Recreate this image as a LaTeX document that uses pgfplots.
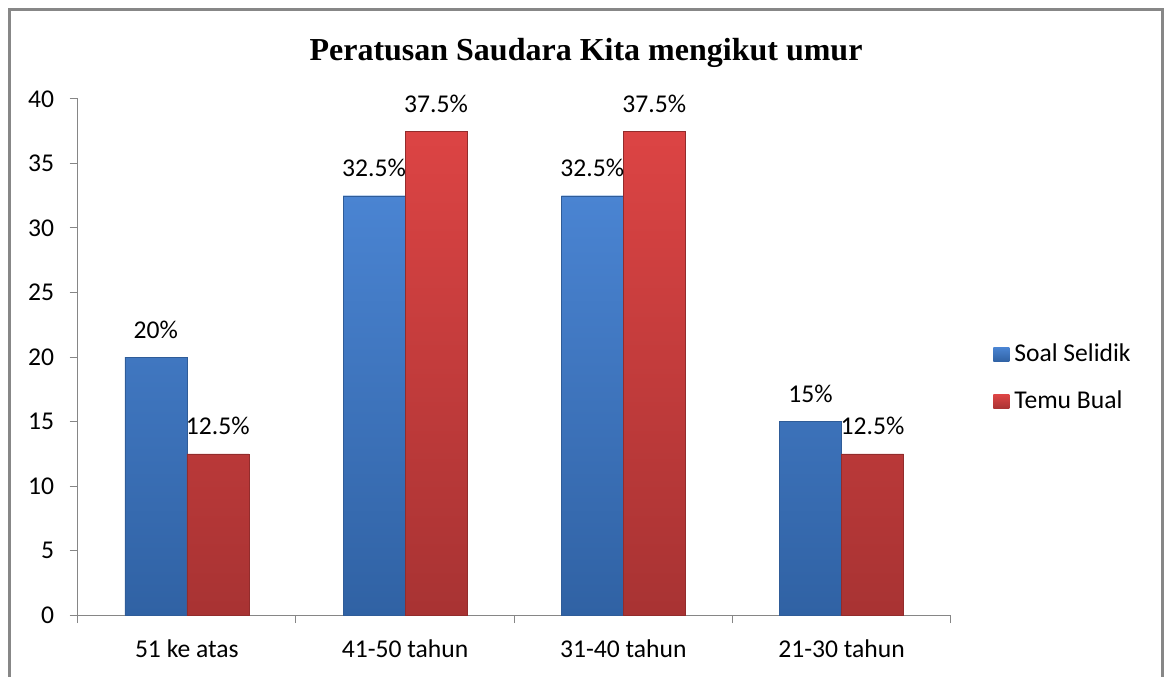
\documentclass[border=0pt]{standalone}
\usepackage{fontspec}
\setmainfont{Carlito}
\newfontfamily\titlefont{Liberation Serif}
\usepackage{pgfplots}
\pgfplotsset{compat=1.18}
\definecolor{axgray}{HTML}{868686}
\definecolor{frgray}{HTML}{878787}
\definecolor{blueTop}{HTML}{4A84D2}
\definecolor{blueBot}{HTML}{3062A4}
\definecolor{blueEdge}{HTML}{2F5C98}
\definecolor{redTop}{HTML}{DC4444}
\definecolor{redBot}{HTML}{A83333}
\definecolor{redEdge}{HTML}{922C2C}
\newcommand{\lblfont}{\fontsize{19.2}{23}\selectfont}
\begin{document}
\begin{tikzpicture}
\useasboundingbox (0,0) rectangle (873pt,-507.75pt);
\draw[frgray, line width=2.25pt] (7.1pt,-520pt) -- (7.1pt,-7.1pt) -- (871.9pt,-7.1pt) -- (871.9pt,-520pt);
\node[font=\titlefont\bfseries\fontsize{24}{28}\selectfont, anchor=base, inner sep=0pt] at (439.5pt,-45.4pt) {Peratusan Saudara Kita mengikut umur};
\begin{axis}[
  at={(58.28pt,-461.25pt)}, anchor=south west,
  scale only axis, width=654.75pt, height=387pt,
  xmin=-0.5, xmax=3.5, ymin=0, ymax=40,
  axis lines*=left,
  axis line style={axgray, line width=0.75pt},
  every tick/.style={axgray, line width=0.75pt},
  tick align=outside,
  major tick length=6pt,
  ytick={0,5,...,40},
  xtick={-0.5,0.5,...,3.5}, xticklabels={},
  extra x ticks={0,1,2,3},
  extra x tick labels={51 ke atas, 41-50 tahun, 31-40 tahun, 21-30 tahun},
  extra x tick style={major tick length=0pt},
  ticklabel style={font=\lblfont, text=black},
  /pgf/number format/assume math mode=true,
  yticklabel style={anchor=east, xshift=-8.25pt},
  xticklabel style={anchor=base, yshift=-32pt},
  ybar=0pt, bar width=46.5pt,
  nodes near coords={\pgfmathprintnumber[assume math mode=true]{\pgfplotspointmeta}\%},
  nodes near coords style={anchor=base, yshift=14.25pt, font=\lblfont, inner sep=0pt, text=black},
  legend cell align=left,
  legend image code/.code={\path[#1, draw=none] (0pt,-5.25pt) rectangle (12pt,5.25pt);},
  legend style={draw=none, fill=none, at={(axis description cs:1.0485,0.459)}, anchor=west,
    inner sep=0pt, row sep=17.5pt, font=\lblfont,
    nodes={inner sep=0pt, text height=14pt, text depth=4pt}},
]
\addplot[draw=blueEdge, line width=0.3pt, top color=blueTop, bottom color=blueBot]
  coordinates {(0,20) (1,32.5) (2,32.5) (3,15)};
\addlegendentry{\hspace{3.75pt}Soal Selidik}
\addplot[draw=redEdge, line width=0.3pt, top color=redTop, bottom color=redBot]
  coordinates {(0,12.5) (1,37.5) (2,37.5) (3,12.5)};
\addlegendentry{\hspace{3.75pt}Temu Bual}
\end{axis}
\end{tikzpicture}
\end{document}
